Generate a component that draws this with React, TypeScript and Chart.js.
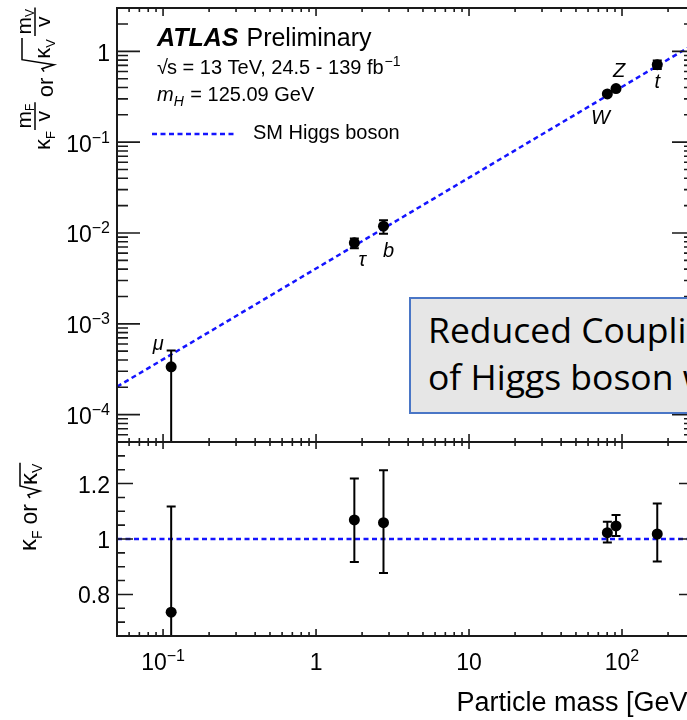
import React, { useEffect, useRef } from "react";
import { Chart, registerables } from "chart.js";

Chart.register(...registerables);

// ---------------- data ----------------
const particleNames = ["μ", "τ", "b", "W", "Z", "t"];
const particleMass = [0.113, 1.78, 2.76, 80.2, 91.4, 170];
const couplingValue = [3.36e-4, 7.8e-3, 1.19e-2, 0.34, 0.389, 0.714];
const couplingLow = [1e-6, 6.8e-3, 9.8e-3, 0.333, 0.381, 0.64];
const couplingHigh = [5.1e-4, 8.7e-3, 1.38e-2, 0.347, 0.398, 0.795];
const kappaValue = [0.736, 1.069, 1.059, 1.023, 1.047, 1.018];
const kappaLow = [0.3, 0.917, 0.877, 0.987, 1.011, 0.919];
const kappaHigh = [1.117, 1.218, 1.248, 1.062, 1.087, 1.128];
const smMass = [0.05, 300];
const smCoupling = [2.03e-4, 1.22];
const smKappa = [1, 1];

const xTickValues = [0.1, 1, 10, 100];
const xTickLabels = [["10", "−1"], ["1", ""], ["10", ""], ["10", "2"]];
const yTopTickValues = [1e-4, 1e-3, 1e-2, 1e-1, 1];
const yTopTickLabels = [["10", "−4"], ["10", "−3"], ["10", "−2"], ["10", "−1"], ["1", ""]];
const yBotTickValues = [0.8, 1, 1.2];
const yBotTickLabels = ["0.8", "1", "1.2"];
const yBotMinorValues = [0.7, 0.75, 0.85, 0.9, 0.95, 1.05, 1.1, 1.15, 1.25, 1.3];

// ---------------- layout / style ----------------
const X_MIN = 0.05, X_MAX = 300;
const YT_MIN = 5e-5, YT_MAX = 3;
const YB_MIN = 0.65, YB_MAX = 1.35;
const labelOffsets = [[-13, -22], [8, 18], [5, 25], [-7, 25], [3, -17], [0, 18]];
const SM_BLUE = "#1414ff";
const DASH = [5, 3.5];
const FONT = '"Liberation Sans", Arial, Helvetica, sans-serif';
const f = (size: number, style = "") => `${style} ${size}px ${FONT}`.trim();

function logMinors(min: number, max: number) {
  const out: number[] = [];
  for (let e = -6; e <= 3; e++) {
    const d = Math.pow(10, e);
    for (let k = 2; k <= 9; k++) {
      const v = k * d;
      if (v >= min * 0.999 && v <= max * 1.001) out.push(v);
    }
  }
  return out;
}

function drawPow(ctx: CanvasRenderingContext2D, base: string, exp: string, x: number, y: number,
  align: string, size: number, expSize: number, raise: number) {
  ctx.font = f(size);
  const wb = ctx.measureText(base).width;
  ctx.font = f(expSize);
  const we = exp ? ctx.measureText(exp).width : 0;
  const total = wb + we;
  const sx = align === "right" ? x - total : align === "center" ? x - total / 2 : x;
  ctx.textAlign = "left";
  ctx.textBaseline = "alphabetic";
  ctx.font = f(size);
  ctx.fillText(base, sx, y);
  if (exp) {
    ctx.font = f(expSize);
    ctx.fillText(exp, sx + wb, y - raise);
  }
}

function drawPanelFrame(ctx: CanvasRenderingContext2D, xs: any, ys: any, yMajor: number[], yMinor: number[],
  xMajLen: number, xMinLen: number, yMajLen: number, yMinLen: number) {
  const L = xs.left, R = xs.right, T = ys.top, B = ys.bottom;
  const xMinor = logMinors(X_MIN, X_MAX);
  ctx.save();
  ctx.strokeStyle = "#1a1a1a";
  ctx.lineWidth = 1.6;
  ctx.beginPath();
  const xt = (v: number, len: number) => {
    const p = xs.getPixelForValue(v);
    ctx.moveTo(p, B); ctx.lineTo(p, B - len);
    ctx.moveTo(p, T); ctx.lineTo(p, T + len);
  };
  const yt = (v: number, len: number) => {
    const p = ys.getPixelForValue(v);
    ctx.moveTo(L, p); ctx.lineTo(L + len, p);
    ctx.moveTo(R, p); ctx.lineTo(R - len, p);
  };
  xTickValues.forEach((v) => xt(v, xMajLen));
  xMinor.forEach((v) => xt(v, xMinLen));
  yMajor.forEach((v) => yt(v, yMajLen));
  yMinor.forEach((v) => yt(v, yMinLen));
  ctx.stroke();
  ctx.lineWidth = 2;
  ctx.strokeRect(L, T, R - L, B - T);
  ctx.restore();
}

function drawTopTitle(ctx: CanvasRenderingContext2D) {
  ctx.save();
  ctx.rotate(-Math.PI / 2);
  ctx.fillStyle = "#000";
  ctx.strokeStyle = "#000";
  ctx.textAlign = "left";
  ctx.textBaseline = "alphabetic";
  let u = 150;
  const meas = (t: string, s: number) => { ctx.font = f(s); return ctx.measureText(t).width; };
  const put = (t: string, s: number, bx: number) => { ctx.font = f(s); ctx.fillText(t, -u, bx); return ctx.measureText(t).width; };
  const seg = (x1: number, y1: number, x2: number, y2: number) => {
    ctx.beginPath(); ctx.moveTo(-y1, x1); ctx.lineTo(-y2, x2); ctx.stroke();
  };
  const frac = (sub: string) => {
    const wn = meas("m", 21) + meas(sub, 12);
    const wv = meas("v", 21);
    const W = Math.max(wn, wv) + 3;
    const u0 = u;
    u = u0 - (W - wn) / 2;
    u -= put("m", 21, 31);
    put(sub, 12, 34);
    u = u0 - (W - wv) / 2;
    put("v", 21, 50);
    ctx.lineWidth = 1.5;
    seg(35, u0, 35, u0 - W);
    u = u0 - W;
  };
  u -= put("κ", 22, 50);
  u -= put("F", 13, 55);
  u -= 1;
  frac("F");
  u -= 5;
  u -= put("or", 22, 53);
  u -= 6;
  ctx.lineWidth = 1.5;
  const kw = meas("κ", 22) + meas("V", 13) + 2;
  ctx.beginPath();
  ctx.moveTo(-u, 44);
  ctx.lineTo(-(u - 3), 42);
  ctx.lineTo(-(u - 7), 54);
  ctx.lineTo(-(u - 12), 22);
  ctx.lineTo(-(u - 12 - kw), 22);
  ctx.stroke();
  u -= 13;
  u -= put("κ", 22, 50);
  u -= put("V", 13, 55);
  u -= 3;
  frac("V");
  ctx.restore();
}

function drawBottomTitle(ctx: CanvasRenderingContext2D) {
  ctx.save();
  ctx.rotate(-Math.PI / 2);
  ctx.fillStyle = "#000";
  ctx.strokeStyle = "#000";
  ctx.textAlign = "left";
  ctx.textBaseline = "alphabetic";
  let u = 551;
  const meas = (t: string, s: number) => { ctx.font = f(s); return ctx.measureText(t).width; };
  const put = (t: string, s: number, bx: number) => { ctx.font = f(s); ctx.fillText(t, -u, bx); return ctx.measureText(t).width; };
  u -= put("κ", 24, 36);
  u -= put("F", 14, 42);
  u -= 6;
  u -= put("or", 23, 37);
  u -= 6;
  const kw = meas("κ", 24) + meas("V", 14) + 2;
  ctx.lineWidth = 1.5;
  ctx.beginPath();
  ctx.moveTo(-u, 30);
  ctx.lineTo(-(u - 3), 28);
  ctx.lineTo(-(u - 7), 40);
  ctx.lineTo(-(u - 12), 20);
  ctx.lineTo(-(u - 12 - kw), 20);
  ctx.stroke();
  u -= 13;
  u -= put("κ", 24, 37);
  u -= put("V", 14, 42);
  ctx.restore();
}

const atlasPlugin = {
  id: "atlasPlugin",
  beforeDatasetDraw(chart: any, args: any) {
    const ds = chart.data.datasets[args.index];
    if (!ds.errLow) return;
    const ctx: CanvasRenderingContext2D = chart.ctx;
    const xs = chart.scales.x;
    const ys = chart.scales[ds.yAxisID];
    ctx.save();
    ctx.beginPath();
    ctx.rect(xs.left, ys.top, xs.right - xs.left, ys.bottom - ys.top);
    ctx.clip();
    ctx.strokeStyle = "#000";
    ctx.lineWidth = 2;
    ctx.beginPath();
    ds.data.forEach((pt: any, i: number) => {
      const px = xs.getPixelForValue(pt.x);
      const lo = ys.getPixelForValue(ds.errLow[i]);
      const hi = ys.getPixelForValue(ds.errHigh[i]);
      ctx.moveTo(px, lo); ctx.lineTo(px, hi);
      ctx.moveTo(px - 4.5, lo); ctx.lineTo(px + 4.5, lo);
      ctx.moveTo(px - 4.5, hi); ctx.lineTo(px + 4.5, hi);
    });
    ctx.stroke();
    ctx.restore();
  },
  afterDraw(chart: any) {
    const ctx: CanvasRenderingContext2D = chart.ctx;
    const xs = chart.scales.x;
    const yt = chart.scales.yTop;
    const yb = chart.scales.yBot;
    drawPanelFrame(ctx, xs, yt, yTopTickValues, logMinors(YT_MIN, YT_MAX), 8, 4, 23, 11);
    drawPanelFrame(ctx, xs, yb, yBotTickValues, yBotMinorValues, 7, 4, 16, 8);

    ctx.save();
    ctx.fillStyle = "#000";
    yTopTickValues.forEach((v, i) => {
      const p = yt.getPixelForValue(v);
      drawPow(ctx, yTopTickLabels[i][0], yTopTickLabels[i][1], 110, p + 9.5, "right", 23, 16, 9);
    });
    yBotTickValues.forEach((v, i) => {
      const p = yb.getPixelForValue(v);
      drawPow(ctx, yBotTickLabels[i], "", 110, p + 9, "right", 23, 16, 9);
    });
    xTickValues.forEach((v, i) => {
      const p = xs.getPixelForValue(v);
      drawPow(ctx, xTickLabels[i][0], xTickLabels[i][1], p, 670, "center", 23, 16, 9);
    });
    ctx.font = f(27);
    ctx.textAlign = "right";
    ctx.textBaseline = "alphabetic";
    ctx.fillText("Particle mass [GeV]", xs.right, 711);

    ctx.font = f(20, "italic");
    ctx.textAlign = "center";
    ctx.textBaseline = "middle";
    particleNames.forEach((name, i) => {
      const px = xs.getPixelForValue(particleMass[i]) + labelOffsets[i][0];
      const py = yt.getPixelForValue(couplingValue[i]) + labelOffsets[i][1];
      ctx.fillText(name, px, py);
    });

    ctx.textAlign = "left";
    ctx.textBaseline = "alphabetic";
    ctx.font = f(25, "italic bold");
    ctx.fillText("ATLAS", 157, 46);
    const wA = ctx.measureText("ATLAS").width;
    ctx.font = f(25);
    ctx.fillText("Preliminary", 157 + wA + 8, 46);

    ctx.font = f(20);
    let x = 157;
    ctx.fillText("√", x, 74);
    x += ctx.measureText("√").width - 1;
    ctx.fillText("s = 13 TeV, 24.5 - 139 fb", x, 74);
    x += ctx.measureText("s = 13 TeV, 24.5 - 139 fb").width;
    ctx.font = f(14);
    ctx.fillText("−1", x + 1, 66);

    x = 157;
    ctx.font = f(20, "italic");
    ctx.fillText("m", x, 101);
    x += ctx.measureText("m").width;
    ctx.font = f(14, "italic");
    ctx.fillText("H", x, 106);
    x += ctx.measureText("H").width + 1;
    ctx.font = f(20);
    ctx.fillText(" = 125.09 GeV", x, 101);

    ctx.strokeStyle = SM_BLUE;
    ctx.lineWidth = 2.5;
    ctx.setLineDash(DASH);
    ctx.beginPath();
    ctx.moveTo(152, 134);
    ctx.lineTo(236, 134);
    ctx.stroke();
    ctx.setLineDash([]);
    ctx.font = f(20);
    ctx.fillText("SM Higgs boson", 253, 139);

    drawTopTitle(ctx);
    drawBottomTitle(ctx);
    ctx.restore();
  },
};

export default function App() {
  const ref = useRef<HTMLCanvasElement>(null);
  useEffect(() => {
    const canvas = ref.current;
    if (!canvas) return;
    const chart = new Chart(canvas, {
      type: "scatter",
      data: {
        datasets: [
          {
            label: "SM line top",
            data: smMass.map((m, i) => ({ x: m, y: smCoupling[i] })),
            yAxisID: "yTop",
            showLine: true,
            borderColor: SM_BLUE,
            borderWidth: 2.5,
            borderDash: DASH,
            pointRadius: 0,
            order: 3,
          },
          {
            label: "SM line bottom",
            data: smMass.map((m, i) => ({ x: m, y: smKappa[i] })),
            yAxisID: "yBot",
            showLine: true,
            borderColor: SM_BLUE,
            borderWidth: 2.5,
            borderDash: DASH,
            pointRadius: 0,
            order: 3,
          },
          {
            label: "Coupling",
            data: particleMass.map((m, i) => ({ x: m, y: couplingValue[i] })),
            errLow: couplingLow,
            errHigh: couplingHigh,
            yAxisID: "yTop",
            pointRadius: 5.5,
            pointBackgroundColor: "#000",
            pointBorderWidth: 0,
            order: 1,
          } as any,
          {
            label: "Kappa",
            data: particleMass.map((m, i) => ({ x: m, y: kappaValue[i] })),
            errLow: kappaLow,
            errHigh: kappaHigh,
            yAxisID: "yBot",
            pointRadius: 5.5,
            pointBackgroundColor: "#000",
            pointBorderWidth: 0,
            order: 1,
          } as any,
        ],
      },
      options: {
        responsive: false,
        animation: false,
        devicePixelRatio: 1,
        layout: { padding: { left: 117, right: 10, top: 8, bottom: 84 } },
        plugins: { legend: { display: false }, tooltip: { enabled: false } },
        scales: {
          x: { type: "logarithmic", min: X_MIN, max: X_MAX, display: false },
          yBot: { type: "linear", min: YB_MIN, max: YB_MAX, display: false, position: "left", stack: "panels", stackWeight: 194 },
          yTop: { type: "logarithmic", min: YT_MIN, max: YT_MAX, display: false, position: "left", stack: "panels", stackWeight: 434 },
        },
      },
      plugins: [atlasPlugin],
    } as any);
    return () => chart.destroy();
  }, []);

  const boxText: React.CSSProperties = {
    position: "absolute",
    left: 17,
    whiteSpace: "nowrap",
    fontFamily: "'Open Sans', Lato, sans-serif",
    fontSize: 35.5,
    lineHeight: "47px",
    color: "#000",
  };

  return (
    <div style={{ position: "fixed", left: 0, top: 0, width: 687, height: 720, overflow: "hidden", background: "#fff" }}>
      <canvas ref={ref} width={705} height={720} style={{ position: "absolute", left: 0, top: 0, width: 705, height: 720 }} />
      <div
        style={{
          position: "absolute",
          left: 409,
          top: 297,
          width: 330,
          height: 117,
          boxSizing: "border-box",
          background: "#e6e6e6",
          border: "2px solid #4a76c6",
        }}
      >
        <div style={{ ...boxText, top: 6.5 }}>Reduced Coupling Strength</div>
        <div style={{ ...boxText, top: 53.5 }}>of Higgs boson with particles</div>
      </div>
    </div>
  );
}
